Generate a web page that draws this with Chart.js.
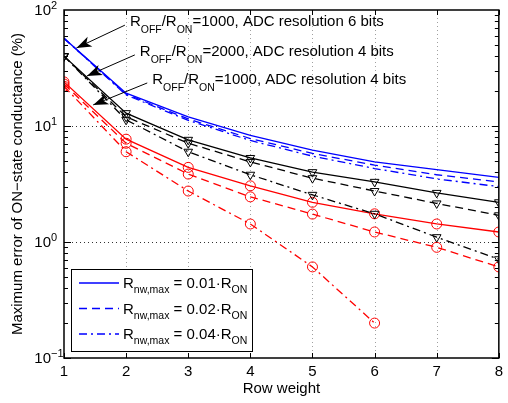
<!DOCTYPE html>
<html>
<head>
<meta charset="utf-8">
<script src="https://cdn.jsdelivr.net/npm/chart.js@4/dist/chart.umd.min.js"></script>
<style>
  html, body { margin: 0; padding: 0; background: #fff; }
  #wrap { width: 508px; height: 403px; }
</style>
</head>
<body>
<div id="wrap"><canvas id="chart"></canvas></div>
<script>
// data
const rowWeights = [1, 2, 3, 4, 5, 6, 7, 8];
const yDecades = [0.1, 1, 10, 100];
const yExponents = ["\u22121", "0", "1", "2"];

// ROFF/RON=1000, ADC 6 bits (blue)
const blueSolid   = [57, 19.2, 12.0, 8.3, 6.2, 4.9, 4.2, 3.6];
const blueDashed  = [57, 18.8, 11.5, 7.8, 5.8, 4.6, 3.8, 3.3];
const blueDashDot = [57, 18.5, 11.2, 7.5, 5.5, 4.3, 3.5, 3.0];
// ROFF/RON=2000, ADC 4 bits (black)
const blackSolid   = [40, 12.9, 7.6, 5.3, 4.0, 3.3, 2.65, 2.2];
const blackDashed  = [40, 12.0, 7.1, 4.9, 3.55, 2.75, 2.15, 1.7];
const blackDashDot = [40, 11.3, 6.0, 3.8, 2.55, 1.75, 1.1, 0.71];
// ROFF/RON=1000, ADC 4 bits (red)
const redSolid   = [24, 7.7, 4.4, 3.05, 2.2, 1.75, 1.43, 1.22];
const redDashed  = [23, 7.1, 3.85, 2.45, 1.74, 1.22, 0.9, 0.61];
const redDashDot = [22, 6.0, 2.75, 1.43, 0.61, 0.2, null, null];

const legendLabels = ["0.01", "0.02", "0.04"];
const annotations = [
  { ratio: "1000", bits: "6", tail: [1.98, 74], tip: [1.2, 47] },
  { ratio: "2000", bits: "4", tail: [2.14, 41], tip: [1.37, 27] },
  { ratio: "1000", bits: "4", tail: [2.34, 23.5], tip: [1.47, 15.2] }
];

const FONT = "'Liberation Sans', Arial, sans-serif";
const DASH = [8, 5];
const DASHDOT = [8, 4, 2, 4];

function pts(arr) {
  return rowWeights.map((x, i) => ({ x, y: arr[i] })).filter(p => p.y !== null);
}

function series(arr, color, dash, marker) {
  return {
    data: pts(arr),
    borderColor: color,
    borderWidth: 1.3,
    borderDash: dash,
    pointStyle: marker || false,
    pointRadius: marker ? 5 : 0,
    pointRotation: marker === "triangle" ? 180 : 0,
    pointBorderColor: color,
    pointBackgroundColor: "rgba(0,0,0,0)",
    pointBorderWidth: 1,
    fill: false,
    tension: 0
  };
}

function line(ctx, x1, y1, x2, y2) {
  ctx.beginPath();
  ctx.moveTo(x1, y1);
  ctx.lineTo(x2, y2);
  ctx.stroke();
}

// draws text pieces, each [text, size, dy]
function richText(ctx, parts, x, y) {
  parts.forEach(([t, size, dy]) => {
    ctx.font = size + "px " + FONT;
    ctx.fillText(t, x, y + dy);
    x += ctx.measureText(t).width;
  });
}

const decor = {
  id: "decor",
  beforeDatasetsDraw(chart) {
    const { ctx, chartArea: a, scales: { x, y } } = chart;
    ctx.save();
    ctx.lineWidth = 1;
    ctx.setLineDash([1, 3]);
    ctx.strokeStyle = "#a0a0a0";
    rowWeights.slice(1, -1).forEach(v => {
      const px = Math.round(x.getPixelForValue(v)) + 0.5;
      line(ctx, px, a.top, px, a.bottom);
    });
    ctx.strokeStyle = "#333";
    yDecades.slice(1, -1).forEach(v => {
      const py = Math.round(y.getPixelForValue(v)) + 0.5;
      line(ctx, a.left, py, a.right, py);
    });
    ctx.restore();
  },
  afterDatasetsDraw(chart) {
    const { ctx, chartArea: a, scales: { x, y } } = chart;
    ctx.save();
    ctx.strokeStyle = "#000";
    ctx.fillStyle = "#000";
    ctx.lineWidth = 1;

    // minor + major ticks
    for (let e = -1; e < 2; e++) {
      for (let m = 1; m < 10; m++) {
        const py = Math.round(y.getPixelForValue(m * Math.pow(10, e))) + 0.5;
        const len = m === 1 ? 7 : 4;
        line(ctx, a.left, py, a.left + len, py);
        line(ctx, a.right, py, a.right - len, py);
      }
    }
    rowWeights.forEach(v => {
      const px = Math.round(x.getPixelForValue(v)) + 0.5;
      line(ctx, px, a.bottom, px, a.bottom - 5);
      line(ctx, px, a.top, px, a.top + 5);
    });

    // frame
    ctx.lineWidth = 1.5;
    ctx.strokeRect(a.left, a.top, a.right - a.left, a.bottom - a.top);

    // y tick labels 10^n
    ctx.textBaseline = "alphabetic";
    yDecades.forEach((v, i) => {
      const py = y.getPixelForValue(v);
      ctx.font = "15px " + FONT;
      ctx.textAlign = "right";
      ctx.fillText("10", 51, py + 5);
      ctx.font = "11px " + FONT;
      ctx.textAlign = "left";
      ctx.fillText(yExponents[i], 51, py - 1);
    });

    // legend
    ctx.textAlign = "left";
    ctx.fillStyle = "#fff";
    ctx.fillRect(71, 269, 181, 82);
    ctx.lineWidth = 1;
    ctx.strokeStyle = "#000";
    ctx.strokeRect(71.5, 269.5, 181, 82);
    const dashes = [[], DASH, DASHDOT];
    legendLabels.forEach((lbl, i) => {
      const ly = 283 + i * 25.5;
      ctx.strokeStyle = "#0000ff";
      ctx.lineWidth = 1.3;
      ctx.setLineDash(dashes[i]);
      line(ctx, 79, ly, 119, ly);
      ctx.setLineDash([]);
      ctx.fillStyle = "#000";
      richText(ctx, [["R", 15, 0], ["nw,max", 10.5, 5], [" = " + lbl + "\u00b7R", 15, 0], ["ON", 10.5, 5]], 123, ly + 5);
    });

    // annotations with arrows
    annotations.forEach(an => {
      const tx = x.getPixelForValue(an.tail[0]), ty = y.getPixelForValue(an.tail[1]);
      const hx = x.getPixelForValue(an.tip[0]), hy = y.getPixelForValue(an.tip[1]);
      ctx.strokeStyle = "#000";
      ctx.lineWidth = 1;
      line(ctx, tx, ty, hx, hy);
      const ang = Math.atan2(hy - ty, hx - tx);
      const L = 15, W = 5.5;
      const bx = hx - L * Math.cos(ang), by = hy - L * Math.sin(ang);
      const nx = hx - (L - 4) * Math.cos(ang), ny = hy - (L - 4) * Math.sin(ang);
      ctx.beginPath();
      ctx.moveTo(hx, hy);
      ctx.lineTo(bx - W * Math.sin(ang), by + W * Math.cos(ang));
      ctx.lineTo(nx, ny);
      ctx.lineTo(bx + W * Math.sin(ang), by - W * Math.cos(ang));
      ctx.closePath();
      ctx.fillStyle = "#000";
      ctx.fill();
      richText(ctx, [["R", 15, 0], ["OFF", 10.5, 7], ["/R", 15, 0], ["ON", 10.5, 7],
        ["=" + an.ratio + ", ADC resolution " + an.bits + " bits", 15, 0]], tx + 5, ty + 1);
    });
    ctx.restore();
  }
};

new Chart(document.getElementById("chart"), {
  type: "line",
  data: {
    datasets: [
      series(blueSolid, "#0000ff", []),
      series(blueDashed, "#0000ff", DASH),
      series(blueDashDot, "#0000ff", DASHDOT),
      series(blackSolid, "#000000", [], "triangle"),
      series(blackDashed, "#000000", DASH, "triangle"),
      series(blackDashDot, "#000000", DASHDOT, "triangle"),
      series(redSolid, "#ff0000", [], "circle"),
      series(redDashed, "#ff0000", DASH, "circle"),
      series(redDashDot, "#ff0000", DASHDOT, "circle")
    ]
  },
  options: {
    responsive: true,
    maintainAspectRatio: false,
    animation: false,
    devicePixelRatio: 1,
    layout: { padding: { top: 10, right: 4, left: 0, bottom: 0 } },
    plugins: { legend: { display: false }, tooltip: { enabled: false } },
    scales: {
      x: {
        type: "linear",
        min: 1,
        max: 8,
        grid: { display: false, drawTicks: false },
        border: { display: false },
        ticks: { stepSize: 1, color: "#000", font: { family: FONT, size: 15 }, padding: 5 },
        title: { display: true, text: "Row weight", color: "#000", font: { family: FONT, size: 15 }, padding: { top: 0, bottom: 5 } },
        afterFit: s => { s.height = 45; }
      },
      y: {
        type: "logarithmic",
        min: 0.1,
        max: 100,
        grid: { display: false, drawTicks: false },
        border: { display: false },
        ticks: { display: false },
        title: { display: true, text: "Maximum error of ON\u2212state conductance (%)", color: "#000", font: { family: FONT, size: 15 }, padding: { top: 9, bottom: 0 } },
        afterFit: s => { s.width = 64; }
      }
    }
  },
  plugins: [decor]
});
</script>
</body>
</html>
